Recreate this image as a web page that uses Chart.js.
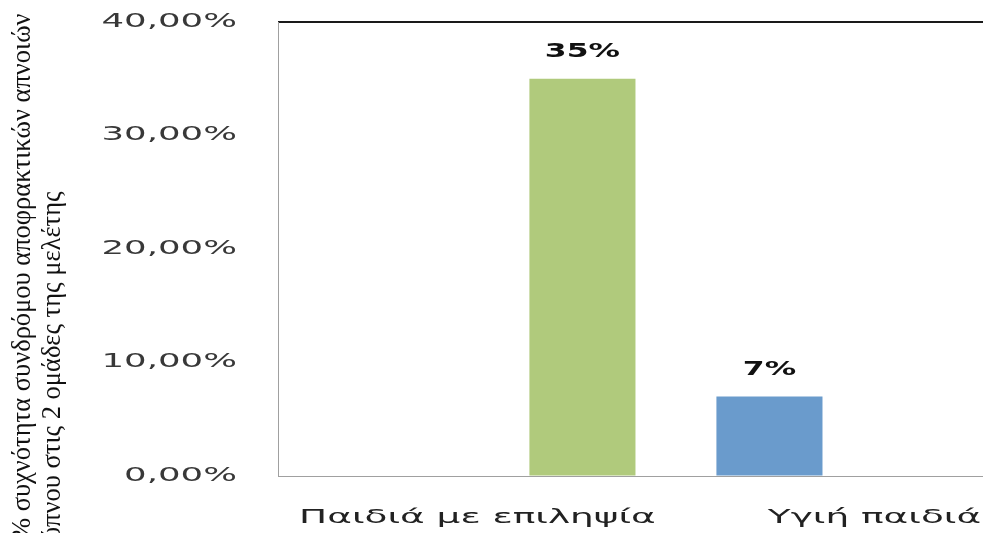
<!DOCTYPE html>
<html lang="el">
<head>
<meta charset="utf-8">
<title>Σύνδρομο αποφρακτικών απνοιών ύπνου</title>
<script src="https://cdn.jsdelivr.net/npm/chart.js@4.4.1/dist/chart.umd.min.js"></script>
<style>
  html, body { margin: 0; padding: 0; background: #fff; overflow: hidden; }
  .chart-box { position: relative; width: 1080px; height: 550px; }
</style>
</head>
<body>
<div class="chart-box">
  <canvas id="osasChart" width="1080" height="550"></canvas>
</div>
<script>
// study groups and OSAS frequency (%)
const groups = ['Παιδιά με επιληψία', 'Υγιή παιδιά'];
const epilepsyRates = [35, null];
const healthyRates = [null, 7];
const tickLabels = ['0,00%', '10,00%', '20,00%', '30,00%', '40,00%'];
const axisTitle = ['% συχνότητα συνδρόμου αποφρακτικών απνοιών', 'ύπνου στις 2 ομάδες της μελέτης'];

const GREEN = '#b0ca7c';
const BLUE = '#6a9bcc';

// the sans labels are drawn wide, serif title stays as is
function stretchFor(font) {
  if (font.indexOf('DejaVu') === -1) return 1;
  return font.indexOf('bold') !== -1 ? 1.57 : 1.87;
}

const wideText = {
  id: 'wideText',
  beforeDraw(chart) {
    const ctx = chart.ctx;
    if (ctx._plainFillText) return;
    const plain = ctx.fillText;
    ctx._plainFillText = plain;
    ctx.fillText = function (text, x, y, maxWidth) {
      const sx = stretchFor(this.font);
      if (sx === 1) return plain.call(this, text, x, y, maxWidth);
      this.save();
      this.translate(x, y);
      this.scale(sx, 1);
      plain.call(this, text, 0, 0);
      this.restore();
    };
  }
};

// percentage above each bar
const barValues = {
  id: 'barValues',
  afterDatasetsDraw(chart) {
    const ctx = chart.ctx;
    ctx.save();
    ctx.font = 'bold 20px "DejaVu Sans"';
    ctx.fillStyle = '#111';
    ctx.textAlign = 'center';
    ctx.textBaseline = 'bottom';
    chart.data.datasets.forEach((ds, i) => {
      chart.getDatasetMeta(i).data.forEach((bar, j) => {
        const v = ds.data[j];
        if (v === null || v === undefined) return;
        ctx.fillText(v + '%', bar.x, bar.y - 17);
      });
    });
    ctx.restore();
  }
};

const ctx = document.getElementById('osasChart').getContext('2d');
new Chart(ctx, {
  type: 'bar',
  data: {
    labels: groups,
    datasets: [
      { label: groups[1], data: healthyRates, backgroundColor: BLUE, borderWidth: 0 },
      { label: groups[0], data: epilepsyRates, backgroundColor: GREEN, borderWidth: 0 },
    ]
  },
  options: {
    responsive: false,
    animation: false,
    categoryPercentage: 1.058,
    barPercentage: 0.505,
    layout: { padding: { left: 0, top: 0, right: 7, bottom: 10 } },
    scales: {
      x: {
        grid: { display: false },
        border: { color: '#a0a0a0', width: 1 },
        ticks: {
          font: { family: 'DejaVu Sans', size: 20 },
          color: '#222',
          padding: 22,
          autoSkip: false,
          maxRotation: 0,
        },
        afterFit(scale) { scale.height = 64; },
      },
      xTop: {
        position: 'top',
        grid: { display: false },
        border: { color: '#1a1a1a', width: 2 },
        ticks: { display: false },
        afterFit(scale) { scale.height = 22; },
      },
      y: {
        min: 0,
        max: 40,
        // invisible tick marks keep the labels away from the frame
        grid: { display: true, color: 'transparent', drawTicks: true, tickLength: 42 },
        border: { color: '#a0a0a0', width: 1 },
        ticks: {
          stepSize: 10,
          padding: 0,
          color: '#383838',
          font: { family: 'DejaVu Sans', size: 19 },
          callback: (value, index) => tickLabels[index],
        },
        afterFit(scale) { scale.width = 209; },
      },
    },
    plugins: {
      legend: { display: false },
      tooltip: { enabled: false },
      title: {
        display: true,
        position: 'left',
        align: 'start',
        text: axisTitle,
        color: '#111',
        font: { family: 'Liberation Serif', size: 26.5, weight: 'normal', lineHeight: 1.13 },
        padding: { top: 8, bottom: 2 },
      },
    },
  },
  plugins: [wideText, barValues],
});
</script>
</body>
</html>
